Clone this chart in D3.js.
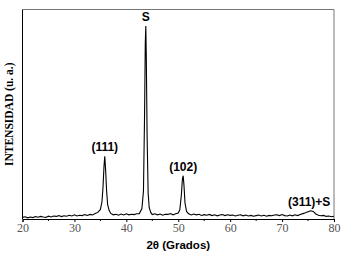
<!DOCTYPE html>
<html>
<head>
<meta charset="utf-8">
<script src="https://cdn.jsdelivr.net/npm/d3@7"></script>
<style>
body { margin: 0; background: #fff; }
svg { display: block; }
.tick text { font-family: "Liberation Serif", "Times New Roman", serif !important; }
</style>
</head>
<body>
<svg id="chart"></svg>
<script>
// difractograma - valores
var twoTheta = [20, 20.5, 21, 21.5, 22, 22.5, 23, 23.5, 24, 24.5, 25, 25.5, 26, 26.5, 27, 27.5, 28, 28.5, 29, 29.5,
  30, 30.5, 31, 31.5, 32, 32.5, 33, 33.5, 34, 34.5, 35, 35.3, 35.5, 35.7, 35.85, 36, 36.2, 36.4, 36.7, 37, 37.5,
  38, 38.5, 39, 39.5, 40, 40.5, 41, 41.5, 42, 42.5, 43, 43.3, 43.5, 43.65, 43.75, 43.85, 44, 44.2, 44.4, 44.7,
  45, 45.5, 46, 46.5, 47, 47.5, 48, 48.5, 49, 49.5, 50, 50.3, 50.6, 50.8, 50.95, 51.1, 51.3, 51.6, 52, 52.5,
  53, 53.5, 54, 54.5, 55, 55.5, 56, 56.5, 57, 57.5, 58, 58.5, 59, 59.5, 60, 60.5, 61, 61.5, 62, 62.5, 63, 63.5,
  64, 64.5, 65, 65.5, 66, 66.5, 67, 67.5, 68, 68.5, 69, 69.5, 70, 70.5, 71, 71.5, 72, 72.5, 73, 73.5, 74, 74.5,
  75, 75.5, 76, 76.5, 77, 77.5, 78, 78.5, 79, 79.5, 80];
var intensity = [8, 11, 6, 10, 7, 12, 9, 13, 10, 8, 14, 10, 15, 13, 17, 12, 16, 14, 19, 15,
  21, 15, 19, 17, 22, 18, 23, 20, 27, 33, 48, 85, 155, 265, 314, 250, 140, 72, 42, 28, 21,
  24, 19, 25, 20, 26, 21, 24, 22, 26, 27, 52, 140, 500, 880, 967, 800, 420, 130, 58, 33,
  22, 26, 21, 25, 19, 24, 23, 27, 21, 26, 30, 46, 120, 200, 217, 170, 80, 38, 26, 20,
  25, 21, 24, 18, 22, 19, 23, 17, 21, 16, 20, 22, 17, 21, 18, 20, 15, 19, 21, 16, 20, 15,
  18, 14, 17, 20, 15, 19, 14, 18, 16, 20, 21, 17, 22, 17, 15, 20, 16, 21, 17, 23, 27, 31,
  36, 41, 38, 25, 19, 16, 18, 13, 15, 11, 14];
var xTicks = [20, 30, 40, 50, 60, 70, 80];
var peakLabels = ["(111)", "S", "(102)", "(311)+S"];
var peakPos = [35.85, 43.75, 50.95, 75.6];
var peakTop = [314, 967, 217, 40];

var width = 346, height = 257;
var margin = {top: 9.5, right: 12, bottom: 38, left: 22.5};

var svg = d3.select("#chart").attr("width", width).attr("height", height);

var x = d3.scaleLinear().domain([20, 80]).range([margin.left, width - margin.right]);
var y = d3.scaleLinear().domain([0, 1050]).range([height - margin.bottom, margin.top]);

// marco: arriba y derecha en gris
svg.append("path")
  .attr("d", "M" + x(20) + "," + y(1050) + "H" + x(80) + "V" + y(0))
  .attr("fill", "none")
  .attr("stroke", "#777")
  .attr("stroke-width", 1);

// eje x
var xAxis = d3.axisBottom(x).tickValues(xTicks).tickSize(3).tickFormat(d3.format("d"));
var gx = svg.append("g")
  .attr("transform", "translate(0," + y(0) + ")")
  .call(xAxis)
  .attr("font-size", 12);
gx.select(".domain").attr("stroke", "#000");
gx.selectAll(".tick line").attr("stroke", "#000");
gx.selectAll(".tick text")
  .attr("fill", "#555")
  .attr("dy", "0.55em");

var minor = d3.range(25, 80, 10);
gx.selectAll(".minor").data(minor).enter().append("line")
  .attr("x1", function(d){return x(d);})
  .attr("x2", function(d){return x(d);})
  .attr("y1", 0).attr("y2", 2)
  .attr("stroke", "#000");

// eje y
svg.append("line")
  .attr("x1", x(20)).attr("x2", x(20))
  .attr("y1", y(0)).attr("y2", y(1050))
  .attr("stroke", "#000");

// curva
var line = d3.line()
  .x(function(d, i){return x(twoTheta[i]);})
  .y(function(d){return y(d);});

svg.append("path")
  .datum(intensity)
  .attr("d", line)
  .attr("fill", "none")
  .attr("stroke", "#000")
  .attr("stroke-width", 1.1);

// etiquetas de picos
svg.selectAll(".peak").data(peakLabels).enter().append("text")
  .attr("x", function(d, i){return x(peakPos[i]) + (i == 3 ? -2 : 0);})
  .attr("y", function(d, i){return y(peakTop[i]) - 5;})
  .attr("text-anchor", "middle")
  .style("font-family", "'Liberation Sans', Arial, sans-serif")
  .style("font-weight", "bold")
  .style("font-size", "12px")
  .text(function(d){return d;});

// titulos
svg.append("text")
  .attr("x", (x(20) + x(80)) / 2)
  .attr("y", 249)
  .attr("text-anchor", "middle")
  .style("font-family", "'Liberation Sans', Arial, sans-serif")
  .style("font-weight", "bold")
  .style("font-size", "11.5px")
  .text("2θ (Grados)");

svg.append("text")
  .attr("transform", "translate(13," + ((y(0) + y(1050)) / 2) + ") rotate(-90)")
  .attr("text-anchor", "middle")
  .style("font-family", "'Liberation Serif', 'Times New Roman', serif")
  .style("font-weight", "bold")
  .style("font-size", "11.5px")
  .text("INTENSIDAD (u. a.)");
</script>
</body>
</html>
